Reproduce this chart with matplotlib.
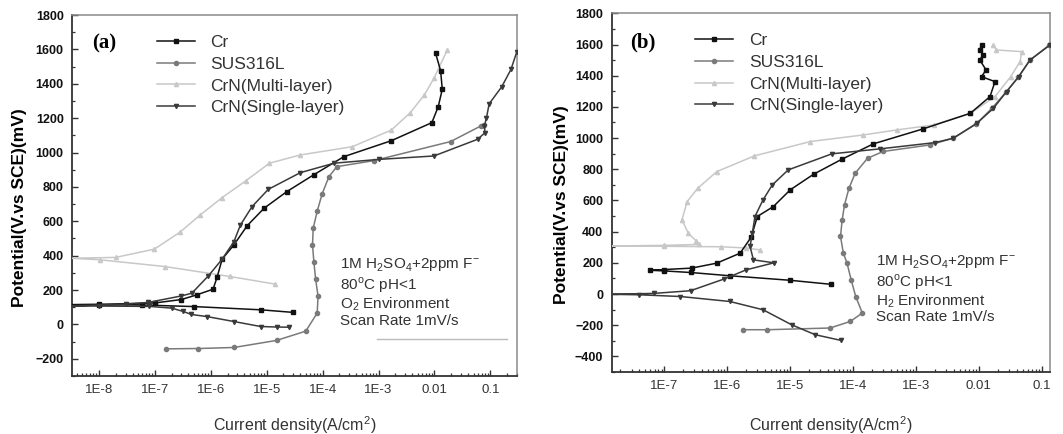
import numpy as np
import matplotlib.pyplot as plt
from matplotlib.ticker import FixedLocator, LogLocator, MultipleLocator, NullFormatter

plt.rcParams['font.family'] = ['Liberation Sans', 'DejaVu Sans']
plt.rcParams['mathtext.fontset'] = 'custom'
plt.rcParams['mathtext.rm'] = 'Liberation Sans'

labels = ['Cr', 'SUS316L', 'CrN(Multi-layer)', 'CrN(Single-layer)']
colors = ['#111111', '#7a7a7a', '#c8c8c8', '#3a3a3a']
markers = ['s', 'o', '^', 'v']

xtick_vals = [1e-8, 1e-7, 1e-6, 1e-5, 1e-4, 1e-3, 1e-2, 1e-1]
xtick_text = ['1E-8', '1E-7', '1E-6', '1E-5', '1E-4', '1E-3', '0.01', '0.1']

# ---- (a) O2 environment: current density (A/cm2) and potential (mV)
cr_a_i = [3e-5, 8e-6, 5e-7, 6e-8, 1e-8, 3.3e-9, 1e-8, 1e-7, 3e-7, 5.6e-7, 1.1e-6, 1.3e-6,
          1.6e-6, 2.6e-6, 4.5e-6, 9e-6, 2.3e-5, 6.9e-5, 2.4e-4, 1.7e-3, 9e-3, 1.17e-2,
          1.38e-2, 1.29e-2, 1.05e-2]
cr_a_e = [70, 85, 104, 113, 115, 115, 117, 125, 145, 172, 205, 275,
          380, 463, 575, 676, 773, 870, 976, 1069, 1174, 1267,
          1368, 1476, 1577]

sus_a_i = [1.6e-7, 6e-7, 2.6e-6, 1.5e-5, 5e-5, 8e-5, 8.3e-5, 7.5e-5, 7e-5, 6.6e-5, 6.8e-5,
           8e-5, 9.8e-5, 1.3e-4, 1.8e-4, 8.3e-4, 1.95e-2, 6.8e-2, 7.8e-2]
sus_a_e = [-142, -140, -134, -93, -39, 66, 164, 264, 361, 463, 560,
           658, 759, 860, 918, 953, 1064, 1155, 1160]

multi_a_i = [1.4e-5, 2.2e-6, 1.5e-7, 1.05e-8, 3.3e-9, 2e-8, 9.8e-8, 2.8e-7, 6.5e-7, 1.6e-6,
             4.3e-6, 1.12e-5, 4e-5, 3.4e-4, 1.7e-3, 3.7e-3, 6.6e-3, 9.8e-3, 1.7e-2]
multi_a_e = [235, 279, 337, 376, 385, 390, 438, 536, 637, 738,
             837, 938, 986, 1034, 1131, 1232, 1335, 1432, 1597]

single_a_i = [2.5e-5, 1.5e-5, 7.8e-6, 2.6e-6, 8.5e-7, 4.5e-7, 3.2e-7, 2e-7, 8e-8, 1e-8, 3.3e-9,
              3e-8, 7.6e-8, 3e-7, 4.6e-7, 9.1e-7, 1.6e-6, 2.6e-6, 3.4e-6, 5.5e-6, 1.07e-5,
              4e-5, 1.6e-4, 1e-3, 9.8e-3, 5.9e-2, 8e-2, 7.8e-2, 8.5e-2, 9.5e-2, 1.6e-1,
              2.34e-1, 2.95e-1]
single_a_e = [-16, -15, -12, 17, 46, 58, 76, 95, 105, 107, 108,
              118, 128, 166, 182, 283, 380, 482, 579, 686, 786,
              883, 938, 960, 980, 1077, 1115, 1155, 1200, 1283, 1383,
              1484, 1583]

# ---- (b) H2 environment
cr_b_i = [4.5e-5, 1e-5, 1.1e-6, 2.6e-7, 1e-7, 6e-8, 1e-7, 2.7e-7, 6.8e-7, 1.6e-6, 2.4e-6,
          3e-6, 5.4e-6, 1e-5, 2.35e-5, 6.6e-5, 2.1e-4, 1.3e-3, 7.3e-3, 1.5e-2, 1.8e-2,
          1.1e-2, 1.3e-2, 1.03e-2, 1.16e-2, 1.03e-2, 1.1e-2]
cr_b_e = [62, 88, 117, 138, 148, 152, 157, 166, 198, 262, 365,
          497, 561, 668, 768, 864, 963, 1059, 1159, 1266, 1362,
          1394, 1437, 1501, 1533, 1565, 1597]

sus_b_i = [1.8e-6, 4.3e-6, 4.3e-5, 9e-5, 1.4e-4, 1.1e-4, 9.3e-5, 8e-5, 7e-5, 6.3e-5, 6.7e-5,
           7.3e-5, 8.6e-5, 1.08e-4, 1.7e-4, 3e-4, 1.66e-3, 3.9e-3, 9e-3, 1.6e-2, 2.7e-2,
           4.2e-2, 6.4e-2, 1.3e-1]
sus_b_e = [-229, -229, -218, -176, -122, -16, 91, 198, 262, 369, 476,
           572, 679, 775, 871, 914, 956, 999, 1090, 1190, 1295,
           1390, 1498, 1595]

multi_b_i = [3.3e-6, 2e-6, 8e-7, 1e-7, 1.45e-8, 1e-7, 3.5e-7, 3.2e-7, 2.4e-7, 1.9e-7, 2.3e-7,
             3.4e-7, 6.8e-7, 2.7e-6, 2.1e-5, 1.45e-4, 4.9e-4, 1.9e-3, 7.3e-3, 1.8e-2, 3.2e-2,
             4.5e-2, 4.8e-2, 1.9e-2, 1.7e-2]
multi_b_e = [283, 295, 303, 306, 308, 312, 318, 340, 390, 476, 593,
             679, 785, 886, 978, 1020, 1052, 1084, 1159, 1266, 1394,
             1490, 1554, 1565, 1597]

single_b_i = [6.5e-5, 2.5e-5, 1.05e-5, 3.7e-6, 1.1e-6, 1.8e-7, 4e-8, 1.45e-8, 6.8e-8, 2.6e-7,
              8.7e-7, 2e-6, 5.5e-6, 2.6e-6, 2.3e-6, 2.5e-6, 2.75e-6, 3.7e-6, 5.2e-6, 9.3e-6,
              4.6e-5, 2.7e-4, 2e-3, 3.9e-3, 9.3e-3, 1.7e-2, 2.75e-2, 4.3e-2, 6.5e-2, 1.35e-1]
single_b_e = [-298, -261, -197, -101, -48, -16, -5, -2, 4, 21,
              95, 155, 200, 219, 305, 390, 497, 604, 700, 796,
              899, 931, 971, 999, 1095, 1191, 1298, 1394, 1501, 1597]

panels = [
    dict(tag='(a)', env='O', xlim=(3.3e-9, 0.3), ylim=(-300, 1800), yticks=np.arange(-200, 1801, 200),
         rect=[0.0677, 0.1336, 0.4187, 0.8318], ylab_x=-0.10, xlab_y=-0.105,
         series=[(cr_a_i, cr_a_e), (sus_a_i, sus_a_e), (multi_a_i, multi_a_e), (single_a_i, single_a_e)]),
    dict(tag='(b)', env='H', xlim=(1.45e-8, 0.135), ylim=(-500, 1800), yticks=np.arange(-400, 1801, 200),
         rect=[0.5754, 0.1429, 0.4124, 0.8264], ylab_x=-0.097, xlab_y=-0.117,
         series=[(cr_b_i, cr_b_e), (sus_b_i, sus_b_e), (multi_b_i, multi_b_e), (single_b_i, single_b_e)]),
]

fig = plt.figure(figsize=(10.63, 4.34), dpi=100)

for p in panels:
    ax = fig.add_axes(p['rect'])
    xmin = p['xlim'][0]
    # draw multi-layer first so the darker curves sit on top
    for k in [2, 1, 0, 3]:
        ii, ee = p['series'][k]
        ii = np.array(ii)
        ee = np.array(ee)
        mk = [int(j) for j in np.where(ii > 2.5 * xmin)[0]]
        ax.plot(ii, ee, color=colors[k], lw=1.1, marker=markers[k], ms=3.0,
                markevery=mk, label=labels[k], zorder=3 + (k != 2))
    ax.set_xscale('log')
    ax.set_xlim(p['xlim'])
    ax.set_ylim(p['ylim'])
    ax.xaxis.set_major_locator(FixedLocator(xtick_vals))
    ax.set_xticklabels(xtick_text)
    ax.xaxis.set_minor_locator(LogLocator(base=10, subs=np.arange(2, 10), numticks=20))
    ax.xaxis.set_minor_formatter(NullFormatter())
    ax.set_yticks(p['yticks'])
    ax.yaxis.set_minor_locator(MultipleLocator(100))
    ax.tick_params(which='both', direction='in', colors='#333333')
    ax.tick_params(which='major', length=4, width=1)
    ax.tick_params(which='minor', length=2.2, width=0.9)
    ax.tick_params(axis='x', labelsize=9.5, pad=6, labelcolor='#333333')
    ax.tick_params(axis='y', labelsize=9, pad=6, labelcolor='#111111')
    for t in ax.get_yticklabels():
        t.set_fontweight('bold')
    for s in ['left', 'bottom']:
        ax.spines[s].set_color('#333333')
        ax.spines[s].set_linewidth(1.3)
    for s in ['top', 'right']:
        ax.spines[s].set_color('#8a8a8a')
        ax.spines[s].set_linewidth(1.1)

    ax.set_ylabel('Potential(V.vs SCE)(mV)', fontsize=12.5, fontweight='bold')
    ax.yaxis.set_label_coords(p['ylab_x'], 0.467)
    ax.set_xlabel('Current density(A/cm$^\\mathregular{2}$)', fontsize=11.5, color='#333333')
    ax.xaxis.set_label_coords(0.5, p['xlab_y'])

    ax.text(0.072, 0.92, p['tag'], transform=ax.transAxes, fontsize=15, fontweight='bold',
            family='Liberation Serif', ha='center', va='center')

    handles, labs = ax.get_legend_handles_labels()
    order = [labs.index(l) for l in labels]
    ax.legend([handles[i] for i in order], labels, loc='upper left', bbox_to_anchor=(0.19, 0.945),
              frameon=False, fontsize=12.5, handlelength=2.2, handletextpad=0.9, labelspacing=0.38,
              borderpad=0, borderaxespad=0, labelcolor='#333333')

    note = ('1M H$_\\mathregular{2}$SO$_\\mathregular{4}$+2ppm F$^\\mathregular{-}$\n'
            '80$^\\mathregular{o}$C pH<1\n'
            + p['env'] + '$_\\mathregular{2}$ Environment\n'
            'Scan Rate 1mV/s')
    ax.text(0.603, 0.33, note, transform=ax.transAxes, fontsize=11, color='#333333',
            ha='left', va='top', linespacing=1.05)

    if p['env'] == 'O':
        ax.plot([0.685, 0.977], [0.102, 0.102], transform=ax.transAxes, color='#bbbbbb', lw=1)

fig.savefig('out.png', dpi=100)
